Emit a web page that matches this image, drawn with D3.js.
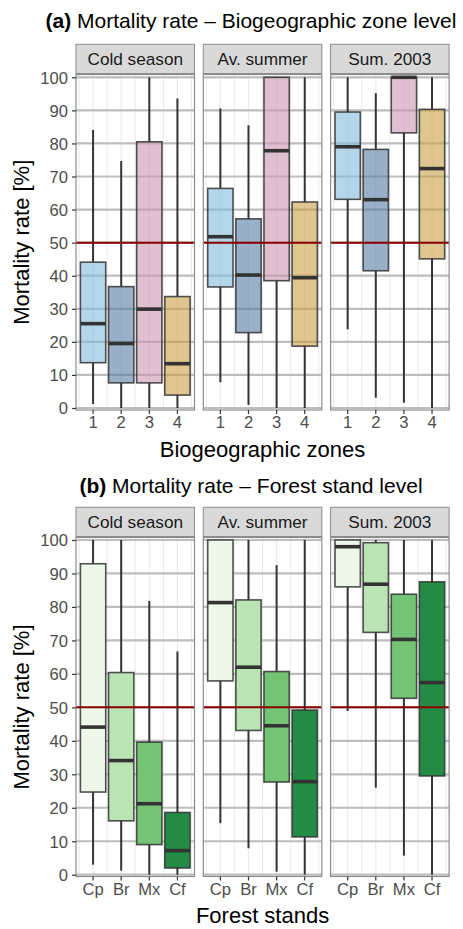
<!DOCTYPE html>
<html><head><meta charset="utf-8">
<script src="https://cdn.jsdelivr.net/npm/d3@7"></script>
<style>body{margin:0;background:#fff}svg{display:block;font-family:"Liberation Sans",Arial,Helvetica,sans-serif}</style>
</head><body><svg id="c" width="463" height="929"></svg>
<script>
const seasons = ["Cold season", "Av. summer", "Sum. 2003"];
const zones = ["1", "2", "3", "4"];
const stands = ["Cp", "Br", "Mx", "Cf"];
const yTicks = [0, 10, 20, 30, 40, 50, 60, 70, 80, 90, 100];
const threshold = 50;

// Biogeographic zones: per season, per zone
const zoneMin = [[1.2, 0, 0, 0], [7.8, 0.9, 0, 0], [23.8, 3.1, 1.6, 0]];
const zoneQ1  = [[13.7, 7.6, 7.6, 3.9], [36.6, 22.8, 38.5, 18.7], [63.1, 41.5, 83.2, 45.1]];
const zoneMed = [[25.5, 19.5, 29.9, 13.4], [51.8, 40.2, 77.8, 39.4], [79.0, 63.0, 100, 72.4]];
const zoneQ3  = [[44.1, 36.7, 80.5, 33.7], [66.4, 57.2, 100, 62.3], [89.5, 78.2, 100, 90.3]];
const zoneMax = [[84.1, 74.7, 100, 93.6], [90.6, 85.5, 100, 100], [100, 95.2, 100, 100]];
const zoneColors = ["#82bbdc", "#577ba3", "#cb96b1", "#caa046"];

// Forest stands: per season, per stand
const standMin = [[3.0, 1.2, 0, 0], [15.4, 7.9, 0.9, 0], [48.9, 26.0, 5.7, 0]];
const standQ1  = [[24.7, 16.1, 9.0, 2.0], [57.9, 43.1, 27.7, 11.3], [86.0, 72.4, 52.7, 29.5]];
const standMed = [[44.1, 34.1, 21.2, 7.2], [81.3, 62.0, 44.5, 27.8], [98.0, 86.8, 70.3, 57.4]];
const standQ3  = [[92.9, 60.4, 39.6, 18.6], [100, 82.1, 60.7, 49.2], [100, 99.2, 83.8, 87.5]];
const standMax = [[100, 100, 81.8, 66.7], [100, 100, 92.5, 100], [100, 100, 100, 100]];
const standColors = ["#edf8e9", "#bae4b3", "#74c476", "#238b45"];

const svg = d3.select("#c");
const panelW = 118.5, panelStep = 127.3, panelX0 = 76;

function drawBlock(cfg) {
  const g = svg.append("g");
  // title
  const t = g.append("text").attr("x", 251).attr("y", cfg.titleY)
    .attr("text-anchor", "middle").attr("font-size", 21).attr("fill", "#000");
  t.append("tspan").attr("font-weight", "bold").text(cfg.tag);
  t.append("tspan").text(" Mortality rate \u2013 " + cfg.title);

  const y = d3.scaleLinear().domain([0, 100]).range([cfg.y0, cfg.y100]);

  seasons.forEach((s, i) => {
    const px = panelX0 + i * panelStep;
    const x = d3.scaleBand().domain(cfg.cats).range([px, px + panelW])
      .paddingInner(0.1).paddingOuter(0.157);
    const step = x.step();
    const pg = g.append("g");
    // strip
    pg.append("rect").attr("x", px).attr("y", cfg.stripTop)
      .attr("width", panelW).attr("height", cfg.panelTop - cfg.stripTop - 1)
      .attr("fill", "#d9d9d9").attr("stroke", "#8c8c8c").attr("stroke-width", 1);
    pg.append("text").attr("x", px + panelW / 2).attr("y", cfg.stripTop + 21)
      .attr("text-anchor", "middle").attr("font-size", 17.2).attr("fill", "#1a1a1a").text(s);
    // panel bg
    pg.append("rect").attr("x", px).attr("y", cfg.panelTop)
      .attr("width", panelW).attr("height", cfg.panelBot - cfg.panelTop).attr("fill", "#fff");
    // minor vertical grid
    const minor = [];
    cfg.cats.forEach(c => { minor.push(x(c) + x.bandwidth() / 2 - step / 2); });
    minor.push(x(cfg.cats[3]) + x.bandwidth() / 2 + step / 2);
    pg.selectAll(".vmin").data(minor).enter().append("line")
      .attr("x1", d => d).attr("x2", d => d).attr("y1", cfg.panelTop).attr("y2", cfg.panelBot)
      .attr("stroke", "#ebebeb").attr("stroke-width", 1);
    pg.selectAll(".vmaj").data(cfg.cats).enter().append("line")
      .attr("x1", d => x(d) + x.bandwidth() / 2).attr("x2", d => x(d) + x.bandwidth() / 2)
      .attr("y1", cfg.panelTop).attr("y2", cfg.panelBot)
      .attr("stroke", "#ebebeb").attr("stroke-width", 1.2);
    // horizontal major grid
    pg.selectAll(".hmaj").data(yTicks).enter().append("line")
      .attr("x1", px).attr("x2", px + panelW).attr("y1", d => y(d)).attr("y2", d => y(d))
      .attr("stroke", "#bdbdbd").attr("stroke-width", 2.2);

    // boxes
    cfg.cats.forEach((c, j) => {
      const cx = x(c) + x.bandwidth() / 2;
      const mn = cfg.min[i][j], q1 = cfg.q1[i][j], md = cfg.med[i][j], q3 = cfg.q3[i][j], mx = cfg.max[i][j];
      pg.append("line").attr("x1", cx).attr("x2", cx).attr("y1", y(q3)).attr("y2", y(mx))
        .attr("stroke", "#333").attr("stroke-width", 2);
      pg.append("line").attr("x1", cx).attr("x2", cx).attr("y1", y(q1)).attr("y2", y(mn))
        .attr("stroke", "#333").attr("stroke-width", 2);
      pg.append("rect").attr("x", x(c)).attr("y", y(q3)).attr("width", x.bandwidth())
        .attr("height", Math.max(0, y(q1) - y(q3)))
        .attr("fill", cfg.colors[j]).attr("fill-opacity", cfg.alpha)
        .attr("stroke", "#333").attr("stroke-opacity", 0.85).attr("stroke-width", 1.6);
      pg.append("line").attr("x1", x(c)).attr("x2", x(c) + x.bandwidth())
        .attr("y1", y(md)).attr("y2", y(md)).attr("stroke", "#333").attr("stroke-width", 3.6);
    });

    // threshold
    pg.append("line").attr("x1", px).attr("x2", px + panelW)
      .attr("y1", y(threshold)).attr("y2", y(threshold))
      .attr("stroke", "#8b0000").attr("stroke-width", 2);
    // border
    pg.append("rect").attr("x", px).attr("y", cfg.panelTop)
      .attr("width", panelW).attr("height", cfg.panelBot - cfg.panelTop)
      .attr("fill", "none").attr("stroke", "#8c8c8c").attr("stroke-width", 1.2);

    // x axis
    const xa = pg.append("g").attr("transform", `translate(0,${cfg.panelBot})`)
      .call(d3.axisBottom(x).tickSize(4).tickPadding(3));
    xa.select(".domain").remove();
    xa.selectAll(".tick line").attr("stroke", "#333").attr("stroke-width", 1.2);
    xa.selectAll(".tick text").attr("font-size", 16.6).attr("fill", "#4d4d4d")
      .attr("font-family", null).attr("dy", null).attr("y", cfg.tickLabelY - cfg.panelBot);

    if (i === 0) {
      const ya = pg.append("g").attr("transform", `translate(${px},0)`)
        .call(d3.axisLeft(y).tickValues(yTicks).tickSize(4).tickPadding(3));
      ya.select(".domain").remove();
      ya.selectAll(".tick line").attr("stroke", "#333").attr("stroke-width", 1.2);
      ya.selectAll(".tick text").attr("font-size", 16.6).attr("fill", "#4d4d4d")
        .attr("font-family", null).attr("x", -8).attr("dy", "0.36em");
    }
  });

  // axis titles
  g.append("text").attr("x", panelX0 + (2 * panelStep + panelW) / 2).attr("y", cfg.xTitleY)
    .attr("text-anchor", "middle").attr("font-size", 22).attr("fill", "#000").text(cfg.xTitle);
  const cy = (cfg.panelTop + cfg.panelBot) / 2;
  g.append("text").attr("transform", `translate(29,${cy}) rotate(-90)`)
    .attr("text-anchor", "middle").attr("font-size", 22).attr("fill", "#000").text("Mortality rate [%]");
}

drawBlock({
  tag: "(a)", title: "Biogeographic zone level", titleY: 28,
  stripTop: 44.3, panelTop: 74.5, panelBot: 410, y0: 408, y100: 77.3,
  tickLabelY: 428, xTitleY: 457, xTitle: "Biogeographic zones",
  cats: zones, min: zoneMin, q1: zoneQ1, med: zoneMed, q3: zoneQ3, max: zoneMax,
  colors: zoneColors, alpha: 0.6
});
drawBlock({
  tag: "(b)", title: "Forest stand level", titleY: 493,
  stripTop: 507.3, panelTop: 537.5, panelBot: 876.5, y0: 874.7, y100: 540,
  tickLabelY: 895, xTitleY: 922.7, xTitle: "Forest stands",
  cats: stands, min: standMin, q1: standQ1, med: standMed, q3: standQ3, max: standMax,
  colors: standColors, alpha: 1
});
</script></body></html>
